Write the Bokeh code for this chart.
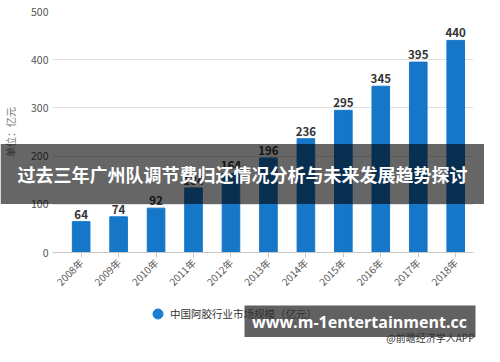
import math
from bokeh.plotting import figure
from bokeh.layouts import column
from bokeh.models import (Range1d, FixedTicker, Legend, LegendItem,
                          ColumnDataSource)
from bokeh.core.properties import value
from bokeh.embed import file_html
from bokeh.resources import INLINE

FONT = "Noto Sans CJK SC"

years = ["2008年", "2009年", "2010年", "2011年", "2012年", "2013年",
         "2014年", "2015年", "2016年", "2017年", "2018年"]
values = [64, 74, 92, 134, 164, 196, 236, 295, 345, 395, 440]
y_ticks = [0, 100, 200, 300, 400, 500]
series_name = "中国阿胶行业市场规模（亿元）"
y_label = "单位：亿元"
banner_text = "过去三年广州队调节费归还情况分析与未来发展趋势探讨"
site_text = "www.m-1entertainment.cc"
source_text = "@前瞻经济学人APP"

W, H = 484, 346

# ---------------- main chart ----------------
p = figure(width=W, height=H, output_backend="svg", toolbar_location=None,
           x_range=Range1d(-0.765, 10.475), y_range=Range1d(0, 500),
           min_border_left=47, min_border_right=11, min_border_top=11,
           min_border_bottom=94)
p.outline_line_color = None
p.align = "start"

src = ColumnDataSource(dict(x=list(range(len(years))), y=values,
                            label=[str(v) for v in values]))
p.vbar(x="x", top="y", width=0.47, source=src, color="#1677c8")
p.text(x="x", y="y", text="label", source=src, y_offset=-3,
       text_align="center", text_baseline="bottom",
       text_font=value(FONT), text_font_size="11.5px",
       text_font_style="bold", text_color="#333333")

p.xaxis.ticker = FixedTicker(ticks=list(range(len(years))))
p.xaxis.major_label_overrides = {i: y for i, y in enumerate(years)}
p.xaxis.major_label_orientation = math.pi / 4
p.xaxis.axis_line_color = "#c8c8c8"
p.xaxis.major_tick_line_color = "#c8c8c8"
p.xaxis.major_tick_in = 0
p.xaxis.major_tick_out = 5
p.xaxis.minor_tick_line_color = None
p.xaxis.major_label_text_font = FONT
p.xaxis.major_label_text_font_size = "10px"
p.xaxis.major_label_text_color = "#555555"
p.xaxis.major_label_standoff = 3

p.yaxis.ticker = FixedTicker(ticks=y_ticks)
p.yaxis.axis_line_color = None
p.yaxis.major_tick_line_color = None
p.yaxis.major_tick_in = 0
p.yaxis.major_tick_out = 0
p.yaxis.minor_tick_line_color = None
p.yaxis.major_label_text_font = FONT
p.yaxis.major_label_text_font_size = "10.5px"
p.yaxis.major_label_text_color = "#555555"
p.yaxis.major_label_standoff = 4
p.yaxis.axis_label = y_label
p.yaxis.axis_label_text_font = FONT
p.yaxis.axis_label_text_font_size = "10px"
p.yaxis.axis_label_text_font_style = "normal"
p.yaxis.axis_label_text_color = "#777777"
p.yaxis.axis_label_standoff = 10

p.xgrid.grid_line_color = None
p.ygrid.grid_line_color = "#e0e0e0"

# ---------------- overlay (legend, banner, watermark) ----------------
o = figure(width=W, height=H, output_backend="svg", toolbar_location=None,
           x_range=Range1d(0, W), y_range=Range1d(H, 0),
           x_axis_type=None, y_axis_type=None, min_border=0)
o.outline_line_color = None
o.background_fill_alpha = 0
o.border_fill_alpha = 0
o.margin = (-H, 0, 0, 0)
o.align = "start"

# keep the two plots' frames independent (no frame alignment in the column)
for fig in (p, o):
    if "frame_align" in fig.properties():
        fig.frame_align = False

# legend marker renderer (its single point lies outside the visible range)
dot = o.scatter(x=[-50], y=[-50], marker="circle", size=10, color="#1a7fd4")
legend = Legend(items=[LegendItem(label=series_name, renderers=[dot])],
                location=(145, 20), margin=0, padding=0,
                border_line_color=None, background_fill_alpha=0,
                glyph_width=25, glyph_height=25, label_height=25,
                label_standoff=0, label_text_font=FONT,
                label_text_font_size="10.5px", label_text_color="#333333")
o.add_layout(legend, "center")

# banner across the middle
o.quad(left=[0], right=[W], top=[143.5], bottom=[203.5],
       fill_color="black", fill_alpha=0.6, line_color=None)
o.text(x=[W / 2], y=[173.5], text=[banner_text], text_align="center",
       text_baseline="middle", text_font=value(FONT), text_font_size="18px",
       text_font_style="bold", text_color="white")

# site watermark
o.quad(left=[244], right=[475], top=[305], bottom=[336.5],
       fill_color="#555555", fill_alpha=0.93, line_color=None)
o.text(x=[359], y=[321.5], text=[site_text], text_align="center",
       text_baseline="middle", text_font=value("Open Sans"),
       text_font_size="16px", text_font_style="bold", text_color="white")
o.text(x=[474], y=[337], text=[source_text], text_align="right",
       text_baseline="middle", text_font=value(FONT),
       text_font_size="10px", text_color="#333333")

layout = column(p, o, spacing=0, align="start")
open("out.html", "w").write(file_html(layout, INLINE))
